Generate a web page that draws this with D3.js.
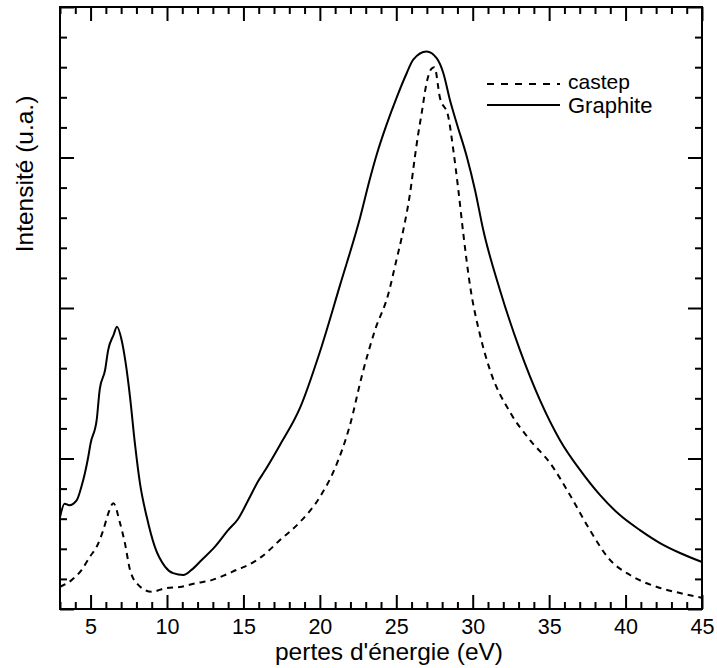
<!DOCTYPE html>
<html>
<head>
<meta charset="utf-8">
<script src="https://cdn.jsdelivr.net/npm/d3@7/dist/d3.min.js"></script>
<style>
  html, body { margin: 0; padding: 0; background: #fff; }
  svg { display: block; }
  text { font-family: "Liberation Sans", Arial, Helvetica, sans-serif; fill: #000; }
</style>
</head>
<body>
<svg id="chart" width="717" height="668"></svg>
<script>
// ---- data ----
const graphiteE = [3.0, 3.3, 3.6, 4.1, 4.4, 4.85, 5.0, 5.4, 5.6, 5.95, 6.15, 6.5, 6.73, 7.03, 7.3, 7.58, 7.9, 8.23, 8.67, 9.2, 9.87, 10.4, 11.07, 11.6, 12.27, 13.14, 14.0, 14.66, 15.32, 15.97, 16.41, 17.39, 18.7, 20.0, 21.32, 22.63, 23.28, 23.72, 24.37, 25.03, 25.68, 26.11, 26.98, 27.64, 28.08, 28.51, 28.95, 29.61, 30.15, 30.69, 31.78, 33.09, 34.4, 35.71, 37.02, 38.32, 39.63, 40.94, 42.25, 43.56, 45.0];
const graphiteI = [3.05, 3.5, 3.45, 3.62, 4.06, 5.06, 5.5, 6.28, 7.3, 7.94, 8.6, 9.1, 9.38, 8.94, 8.16, 7.05, 5.5, 4.18, 3.07, 2.07, 1.41, 1.19, 1.13, 1.3, 1.63, 2.07, 2.62, 3.0, 3.62, 4.25, 4.6, 5.45, 6.68, 8.54, 10.76, 13.0, 14.3, 15.1, 16.1, 17.0, 17.8, 18.25, 18.52, 18.3, 17.8, 16.91, 16.14, 15.03, 13.92, 12.59, 10.6, 8.6, 6.94, 5.61, 4.62, 3.79, 3.12, 2.62, 2.19, 1.86, 1.56];

const castepE = [3.0, 3.76, 4.42, 4.96, 5.4, 5.83, 6.16, 6.49, 6.93, 7.25, 7.58, 8.12, 9.0, 9.87, 10.96, 11.83, 12.92, 13.8, 14.56, 15.32, 16.2, 17.39, 18.7, 20.0, 20.99, 21.97, 22.76, 23.61, 24.46, 24.98, 25.46, 25.9, 26.22, 26.44, 26.66, 26.98, 27.3, 27.5, 27.85, 28.4, 28.73, 29.06, 29.38, 29.82, 30.48, 31.13, 32.44, 33.75, 35.06, 36.36, 37.67, 38.98, 40.29, 42.25, 43.56, 45.0];
const castepI = [0.74, 0.96, 1.3, 1.74, 2.07, 2.62, 3.18, 3.51, 2.85, 2.18, 1.3, 0.8, 0.57, 0.69, 0.74, 0.85, 0.96, 1.13, 1.3, 1.46, 1.74, 2.29, 2.89, 3.72, 4.68, 6.11, 7.77, 9.27, 10.43, 11.53, 12.59, 13.81, 15.03, 15.8, 16.47, 17.47, 17.95, 18.0, 17.0, 16.36, 15.25, 13.92, 12.49, 10.76, 9.1, 7.94, 6.54, 5.61, 4.85, 3.79, 2.62, 1.63, 1.13, 0.7, 0.53, 0.37];

const xMajorTicks = [5, 10, 15, 20, 25, 30, 35, 40, 45];
const xTickLabels = ["5", "10", "15", "20", "25", "30", "35", "40", "45"];
const seriesNames = ["castep", "Graphite"];
const xTitle = "pertes d'énergie (eV)";
const yTitle = "Intensité (u.a.)";

// ---- layout ----
const svg = d3.select("#chart");
const L = 60, R = 702, T = 7, B = 609;
const x = d3.scaleLinear().domain([3, 45]).range([L, R]);
const y = d3.scaleLinear().domain([0, 20]).range([B, T]);

const xMinor = d3.range(3, 46, 1).filter(v => v % 5 !== 0);
const yMinor = d3.range(0, 21, 1).filter(v => v % 5 !== 0);
const yMajor = [0, 5, 10, 15, 20];

function styleAxis(g) {
  g.select(".domain").remove();
  g.selectAll(".tick line").attr("stroke", "#000").attr("stroke-width", 2);
}

// bottom
svg.append("g").attr("transform", `translate(0,${B})`)
  .call(d3.axisBottom(x).tickValues(xMinor).tickSize(-7).tickFormat(""))
  .call(styleAxis);
const gb = svg.append("g").attr("transform", `translate(0,${B})`)
  .call(d3.axisBottom(x).tickValues(xMajorTicks).tickSize(-14)
    .tickFormat((d, i) => xTickLabels[i]))
  .call(styleAxis);
gb.selectAll(".tick text").attr("y", 25).attr("dy", 0)
  .attr("font-size", 21.5).attr("font-family", "Liberation Sans, Arial, sans-serif").attr("fill", "#000");
// top
svg.append("g").attr("transform", `translate(0,${T})`)
  .call(d3.axisTop(x).tickValues(xMinor).tickSize(-7).tickFormat(""))
  .call(styleAxis);
svg.append("g").attr("transform", `translate(0,${T})`)
  .call(d3.axisTop(x).tickValues(xMajorTicks).tickSize(-14).tickFormat(""))
  .call(styleAxis);
// left
svg.append("g").attr("transform", `translate(${L},0)`)
  .call(d3.axisLeft(y).tickValues(yMinor).tickSize(-7).tickFormat(""))
  .call(styleAxis);
svg.append("g").attr("transform", `translate(${L},0)`)
  .call(d3.axisLeft(y).tickValues(yMajor).tickSize(-14).tickFormat(""))
  .call(styleAxis);
// right
svg.append("g").attr("transform", `translate(${R},0)`)
  .call(d3.axisRight(y).tickValues(yMinor).tickSize(-7).tickFormat(""))
  .call(styleAxis);
svg.append("g").attr("transform", `translate(${R},0)`)
  .call(d3.axisRight(y).tickValues(yMajor).tickSize(-14).tickFormat(""))
  .call(styleAxis);

// frame
svg.append("rect").attr("x", L).attr("y", T).attr("width", R - L).attr("height", B - T)
  .attr("fill", "none").attr("stroke", "#000").attr("stroke-width", 2);

// curves
const line = d3.line().x(d => x(d[0])).y(d => y(d[1])).curve(d3.curveMonotoneX);
const castepPts = castepE.map((e, i) => [e, castepI[i]]);
const graphitePts = graphiteE.map((e, i) => [e, graphiteI[i]]);

svg.append("path").datum(castepPts).attr("d", line)
  .attr("fill", "none").attr("stroke", "#000").attr("stroke-width", 2)
  .attr("stroke-dasharray", "6,5");
svg.append("path").datum(graphitePts).attr("d", line)
  .attr("fill", "none").attr("stroke", "#000").attr("stroke-width", 2)
  .attr("stroke-linejoin", "round");

// legend
const lg = svg.append("g");
lg.append("line").attr("x1", 487).attr("x2", 560).attr("y1", 84).attr("y2", 84)
  .attr("stroke", "#000").attr("stroke-width", 2).attr("stroke-dasharray", "7,7");
lg.append("line").attr("x1", 487).attr("x2", 560).attr("y1", 105).attr("y2", 105)
  .attr("stroke", "#000").attr("stroke-width", 2);
lg.append("text").attr("x", 568).attr("y", 89).attr("font-size", 21).text(seriesNames[0]);
lg.append("text").attr("x", 568).attr("y", 113).attr("font-size", 22).text(seriesNames[1]);

// axis titles
svg.append("text").attr("x", 389).attr("y", 660).attr("text-anchor", "middle")
  .attr("font-size", 24.5).text(xTitle);
svg.append("text").attr("transform", "translate(33,174) rotate(-90)")
  .attr("text-anchor", "middle").attr("font-size", 24.5).text(yTitle);
</script>
</body>
</html>
